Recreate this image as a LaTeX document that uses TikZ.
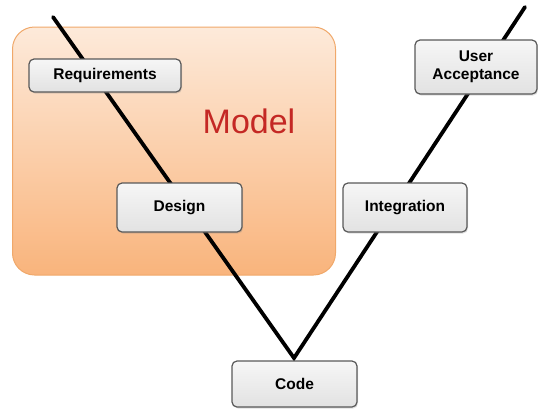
\documentclass[tikz,border=0pt]{standalone}
\usepackage{fontspec}
\setmainfont{Liberation Sans}
\usetikzlibrary{shadows}
\definecolor{peachtop}{RGB}{253,234,218}
\definecolor{peachbot}{RGB}{249,180,124}
\definecolor{peachline}{RGB}{240,168,106}
\definecolor{modelred}{RGB}{196,40,36}
\definecolor{boxtop}{RGB}{246,246,246}
\definecolor{boxbot}{RGB}{226,226,226}
\begin{document}
\begin{tikzpicture}[x=1pt, y=-1pt, line cap=round,
  stagebox/.style={draw=black!65, line width=1.2pt, rounded corners=5pt,
    top color=boxtop, bottom color=boxbot, align=center,
    font=\fontsize{15.5}{18.5}\selectfont\bfseries,
    drop shadow={shadow xshift=1pt, shadow yshift=-1.5pt, opacity=0.25}},
  vline/.style={line width=3.8pt, black}]
  % 1. page and model region (bottom layer)
  \useasboundingbox (0,0) rectangle (538,408);
  \node[draw=peachline, line width=1pt, rounded corners=22pt, top color=peachtop,
    bottom color=peachbot, minimum width=323pt, minimum height=248pt]
    (model) at (174,151) {};
  \node[text=modelred, font=\fontsize{34}{34}\selectfont] (modeltxt) at (249,121) {Model};

  % 2. the V path behind the stages
  \coordinate (vtl) at (53,17);
  \coordinate (vbot) at (294,358);
  \coordinate (vtr) at (525,7);
  \draw[vline] (vtl) -- (vbot) -- (vtr);

  % 3. stages
  \node[stagebox, minimum width=152pt, minimum height=33pt] (req) at (105,75.5) {Requirements};
  \node[stagebox, minimum width=125pt, minimum height=49pt] (design) at (179.5,207.5) {Design};
  \node[stagebox, minimum width=124pt, minimum height=49pt] (integ) at (405,207.5) {Integration};
  \node[stagebox, minimum width=122pt, minimum height=54pt] (uat) at (476,67) {User\\Acceptance};
  \node[stagebox, minimum width=125pt, minimum height=46pt] (code) at (294.5,384) {Code};
\end{tikzpicture}
\end{document}
